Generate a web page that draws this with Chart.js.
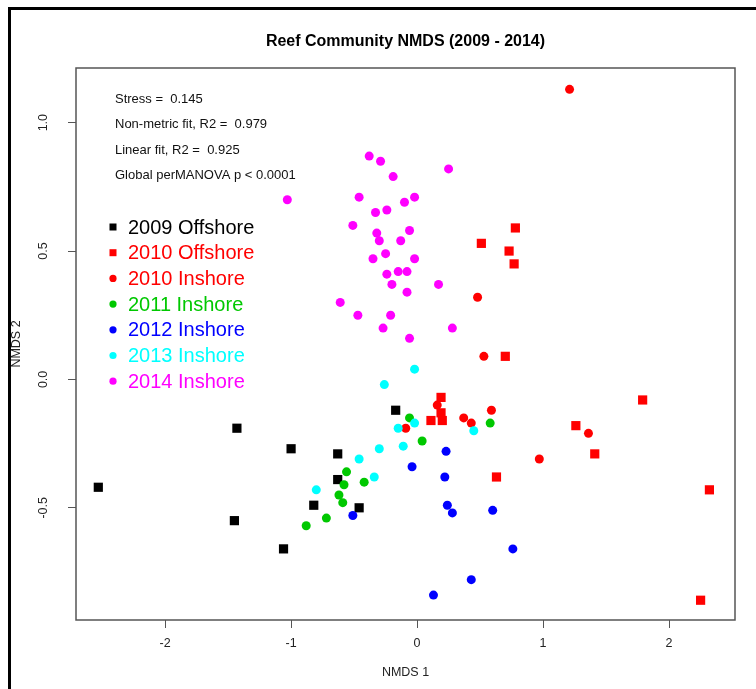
<!DOCTYPE html>
<html>
<head>
<meta charset="utf-8">
<script src="https://cdn.jsdelivr.net/npm/chart.js@4.4.1/dist/chart.umd.min.js"></script>
<style>
    body { margin: 0; background: #fff; }
    #wrap { position: relative; width: 756px; height: 689px; overflow: hidden; }
    #frame { position: absolute; left: 8px; top: 7px; width: 800px; height: 800px;
             border-top: 3px solid #000; border-left: 3px solid #000; pointer-events: none; }
</style>
</head>
<body>
<div id="wrap">
    <canvas id="myChart" width="756" height="689"></canvas>
    <div id="frame"></div>
</div>
<script>
    const groups = ["2009 Offshore", "2010 Offshore", "2010 Inshore", "2011 Inshore", "2012 Inshore", "2013 Inshore", "2014 Inshore"];
    const colors = ["#000000", "#FF0000", "#FF0000", "#00C800", "#0000FF", "#00FFFF", "#FF00FF"];
    const shapes = ["rect", "rect", "circle", "circle", "circle", "circle", "circle"];

    const off2009X = [-2.53, -1.43, -1.00, -0.63, -0.63, -1.45, -0.82, -0.46, -1.06, -0.17];
    const off2009Y = [-0.42, -0.19, -0.27, -0.29, -0.39, -0.55, -0.49, -0.50, -0.66, -0.12];

    const off2010X = [0.19, 0.19, 0.20, 0.11, 1.79, 1.26, 1.41, 0.63, 2.32, 2.25, 0.78, 0.51, 0.73, 0.77, 0.70];
    const off2010Y = [-0.07, -0.13, -0.16, -0.16, -0.08, -0.18, -0.29, -0.38, -0.43, -0.86, 0.59, 0.53, 0.50, 0.45, 0.09];

    const in2010X = [1.21, 0.48, 0.53, 0.16, -0.09, 0.37, 0.43, 0.59, 1.36, 0.97];
    const in2010Y = [1.13, 0.32, 0.09, -0.10, -0.19, -0.15, -0.17, -0.12, -0.21, -0.31];

    const in2011X = [-0.56, -0.42, -0.58, -0.62, -0.59, -0.72, -0.88, -0.06, 0.04, 0.58];
    const in2011Y = [-0.36, -0.40, -0.41, -0.45, -0.48, -0.54, -0.57, -0.15, -0.24, -0.17];

    const in2012X = [-0.51, 0.23, -0.04, 0.22, 0.24, 0.28, 0.60, 0.76, 0.43, 0.13];
    const in2012Y = [-0.53, -0.28, -0.34, -0.38, -0.49, -0.52, -0.51, -0.66, -0.78, -0.84];

    const in2013X = [-0.80, -0.46, -0.34, -0.30, -0.26, -0.15, -0.02, -0.11, 0.45, -0.02];
    const in2013Y = [-0.43, -0.31, -0.38, -0.27, -0.02, -0.19, -0.17, -0.26, -0.20, 0.04];

    const in2014X = [-0.38, -0.29, -0.19, 0.25, -1.03, -0.46, -0.10, -0.02, -0.33, -0.24, -0.51, -0.32, -0.06, -0.30, -0.13,
                     -0.25, -0.35, -0.02, -0.24, -0.15, -0.08, -0.20, 0.17, -0.08, -0.61, -0.47, -0.21, -0.27, 0.28, -0.06];
    const in2014Y = [0.87, 0.85, 0.79, 0.82, 0.70, 0.71, 0.69, 0.71, 0.65, 0.66, 0.60, 0.57, 0.58, 0.54, 0.54,
                     0.49, 0.47, 0.47, 0.41, 0.42, 0.42, 0.37, 0.37, 0.34, 0.30, 0.25, 0.25, 0.20, 0.20, 0.16];

    const xTicks = [-2, -1, 0, 1, 2];
    const yTicks = [-0.5, 0, 0.5, 1.0];
    const yTickLabels = ["-0.5", "0.0", "0.5", "1.0"];

    const statsLines = ["Stress =  0.145", "Non-metric fit, R2 =  0.979", "Linear fit, R2 =  0.925", "Global perMANOVA p < 0.0001"];

    const allX = [off2009X, off2010X, in2010X, in2011X, in2012X, in2013X, in2014X];
    const allY = [off2009Y, off2010Y, in2010Y, in2011Y, in2012Y, in2013Y, in2014Y];

    const FONT = "'Liberation Sans', Arial, sans-serif";
    const boxColor = "#555";

    // datasets in reverse so later years sit on top like in R
    const datasets = groups.map((g, i) => ({
        label: g,
        data: allX[i].map((x, k) => ({ x: x, y: allY[i][k] })),
        backgroundColor: colors[i],
        borderWidth: 0,
        pointStyle: shapes[i],
        pointRadius: shapes[i] === "rect" ? 6.5 : 4.5,
        order: groups.length - i
    }));

    // box, title, rotated y labels, stats text and legend
    const extras = {
        id: "extras",
        afterDraw(chart) {
            const ctx = chart.ctx;
            const a = chart.chartArea;
            ctx.save();
            ctx.strokeStyle = boxColor;
            ctx.lineWidth = 1.5;
            ctx.strokeRect(a.left, a.top, a.right - a.left, a.bottom - a.top);

            ctx.fillStyle = "#000";
            ctx.font = "bold 16px " + FONT;
            ctx.textAlign = "center";
            ctx.textBaseline = "middle";
            ctx.fillText("Reef Community NMDS (2009 - 2014)", (a.left + a.right) / 2, 42);

            const ys = chart.scales.y;
            ctx.font = "12.5px " + FONT;
            ctx.fillStyle = "#222";
            yTicks.forEach((v, i) => {
                const py = ys.getPixelForValue(v);
                ctx.save();
                ctx.translate(44, py);
                ctx.rotate(-Math.PI / 2);
                ctx.fillText(yTickLabels[i], 0, 0);
                ctx.restore();
            });

            ctx.textAlign = "left";
            ctx.fillStyle = "#111";
            ctx.font = "13px " + FONT;
            statsLines.forEach((t, i) => ctx.fillText(t, 115, 99 + i * 25.6));

            ctx.font = "20px " + FONT;
            groups.forEach((g, i) => {
                const ly = 227 + i * 25.7;
                ctx.fillStyle = colors[i];
                if (shapes[i] === "rect") {
                    ctx.fillRect(109.5, ly - 3.5, 7, 7);
                } else {
                    ctx.beginPath();
                    ctx.arc(113, ly, 3.6, 0, Math.PI * 2);
                    ctx.fill();
                }
                ctx.fillText(g, 128, ly + 1);
            });
            ctx.restore();
        }
    };

    new Chart(document.getElementById("myChart"), {
        type: "scatter",
        data: { datasets: datasets },
        options: {
            responsive: false,
            animation: false,
            layout: { padding: { top: 68, right: 21, bottom: 0, left: 0 } },
            plugins: {
                legend: { display: false },
                tooltip: { enabled: false }
            },
            scales: {
                x: {
                    type: "linear",
                    min: -2.707,
                    max: 2.523,
                    afterBuildTicks: (s) => { s.ticks = xTicks.map(v => ({ value: v })); },
                    afterFit: (s) => { s.height = 69; },
                    grid: { drawOnChartArea: false, drawTicks: true, tickLength: 8, color: boxColor, lineWidth: 1 },
                    border: { display: false },
                    ticks: { color: "#222", font: { family: FONT, size: 12.5 }, padding: 8, maxRotation: 0 },
                    title: { display: true, text: "NMDS 1", color: "#222", font: { family: FONT, size: 12.5 }, padding: { top: 0, bottom: 9 } }
                },
                y: {
                    type: "linear",
                    min: -0.937,
                    max: 1.213,
                    afterBuildTicks: (s) => { s.ticks = yTicks.map(v => ({ value: v })); },
                    afterFit: (s) => { s.width = 76; },
                    grid: { drawOnChartArea: false, drawTicks: true, tickLength: 8, color: boxColor, lineWidth: 1 },
                    border: { display: false },
                    ticks: { display: false },
                    title: { display: true, text: "NMDS 2", color: "#222", font: { family: FONT, size: 12.5 }, padding: { top: 9, bottom: 0 } }
                }
            }
        },
        plugins: [extras]
    });
</script>
</body>
</html>
